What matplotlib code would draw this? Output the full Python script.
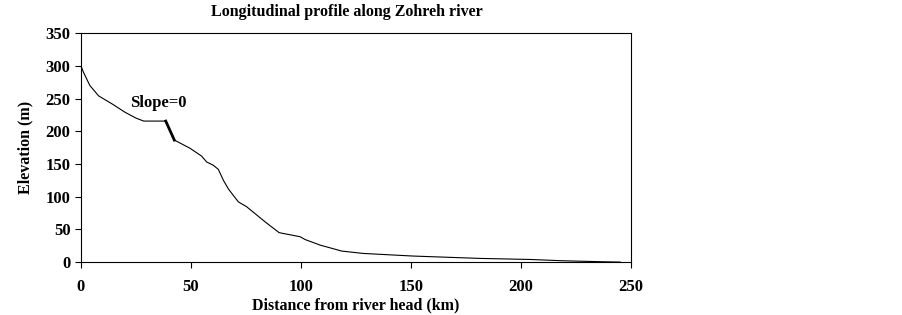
import matplotlib
matplotlib.use("Agg")
import matplotlib.pyplot as plt

# distance from river head (km) and elevation (m)
distance_km = [0, 1, 4, 8, 14, 20, 25, 28.5, 38.5, 42.4, 49.5, 54.8, 57.1, 60.1, 62.4,
               64.7, 67, 71.5, 75.3, 83.6, 90, 99.6, 101.8, 108.6, 118.5, 128.3, 151,
               181.4, 204, 219, 237, 245]
elevation_m = [300, 291, 270, 254, 242, 229, 220, 215.5, 215.5, 186.5, 174, 162, 153,
               148, 141.7, 125, 111.6, 92, 84.5, 61.6, 45, 38.7, 34.5, 26, 16.8, 13.2,
               9.2, 5.6, 4, 2, 0.5, 0]
# bold segment marking the zero-slope reach
step_km = [38.5, 42.4]
step_m = [215.5, 186.5]

x_ticks = [0, 50, 100, 150, 200, 250]
y_ticks = [0, 50, 100, 150, 200, 250, 300, 350]

plt.rcParams["font.family"] = ["Liberation Serif", "DejaVu Serif"]
plt.rcParams["font.weight"] = "bold"

fig = plt.figure(figsize=(9.02, 3.15), dpi=100)
ax = fig.add_axes([0.0898, 0.168, 0.61, 0.727])
ax.plot(distance_km, elevation_m, color="black", linewidth=0.8)
ax.plot(step_km, step_m, color="black", linewidth=2.0)
ax.text(22.3, 243, "Slope=0", fontsize=12, fontweight="bold", va="center")

ax.set_xlim(0, 250)
ax.set_ylim(0, 350)
ax.set_xticks(x_ticks)
ax.set_yticks(y_ticks)
ax.tick_params(direction="out", length=4, width=0.8, labelsize=12)
ax.tick_params(axis="x", pad=8)
for label in ax.get_xticklabels() + ax.get_yticklabels():
    label.set_fontweight("bold")
for spine in ax.spines.values():
    spine.set_linewidth(0.8)
ax.set_xlabel("Distance from river head (km)", fontsize=11.5, fontweight="bold", labelpad=2)
ax.set_ylabel("Elevation (m)", fontsize=11.5, fontweight="bold", labelpad=9)
fig.text(347 / 902, 1 - 12 / 315, "Longitudinal profile along Zohreh river",
         ha="center", va="center", fontsize=11.5, fontweight="bold")

fig.savefig("out.png", dpi=100)
